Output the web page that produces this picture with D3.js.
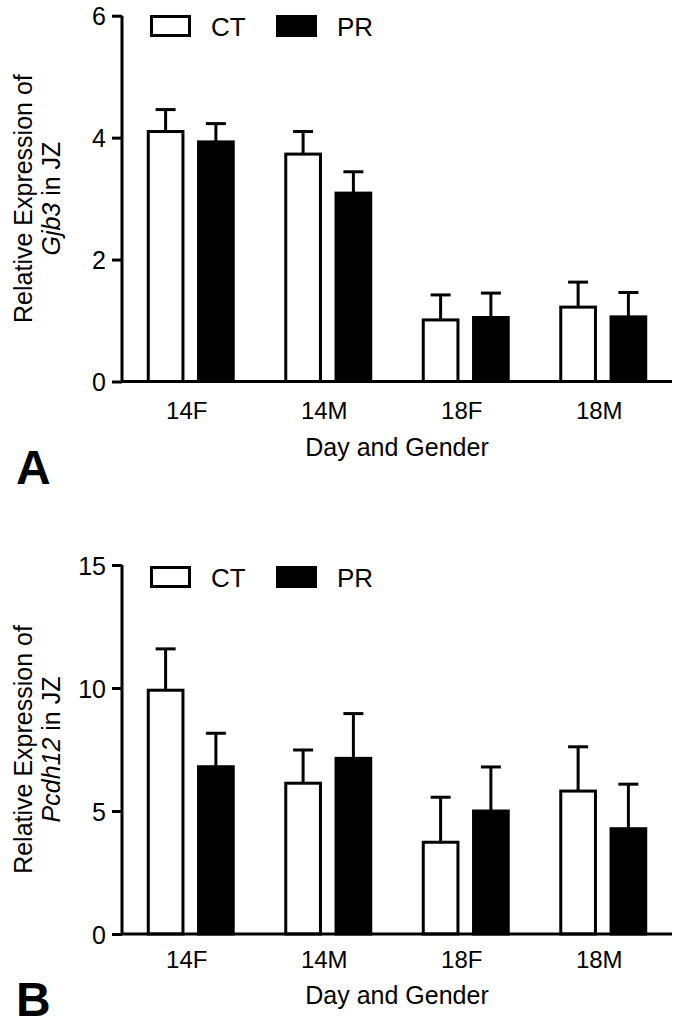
<!DOCTYPE html>
<html><head><meta charset="utf-8">
<script src="https://cdn.jsdelivr.net/npm/d3@7"></script>
<style>
html,body{margin:0;padding:0;background:#fff;}
text{font-family:"Liberation Sans",Arial,sans-serif;fill:#000;}
</style></head>
<body>
<svg id="chart" width="687" height="1027"></svg>
<script>
const categories = ["14F", "14M", "18F", "18M"];
const seriesNames = ["CT", "PR"];

const gjb3CT = [4.10, 3.73, 1.01, 1.22];
const gjb3CTErr = [0.36, 0.37, 0.41, 0.41];
const gjb3PR = [3.93, 3.09, 1.05, 1.06];
const gjb3PRErr = [0.30, 0.35, 0.40, 0.40];
const gjb3Ticks = [0, 2, 4, 6];

const pcdh12CT = [9.91, 6.13, 3.73, 5.81];
const pcdh12CTErr = [1.68, 1.35, 1.83, 1.80];
const pcdh12PR = [6.80, 7.14, 5.00, 4.28];
const pcdh12PRErr = [1.36, 1.82, 1.79, 1.81];
const pcdh12Ticks = [0, 5, 10, 15];

const svg = d3.select("#chart");
const left = 122, right = 672;
const colors = {CT: "#fff", PR: "#000"};

function panel(cfg) {
  const g = svg.append("g");
  const x = d3.scaleBand().domain(categories).range([left, right]).paddingInner(0.382).paddingOuter(0.191);
  const xs = d3.scaleBand().domain(seriesNames).range([0, x.bandwidth()]).paddingInner(0.31);
  const y = d3.scaleLinear().domain([0, cfg.max]).range([cfg.bottom, cfg.top]);

  const rows = [];
  categories.forEach((c, i) => {
    rows.push({cat: c, s: "CT", v: cfg.ct[i], e: cfg.ctErr[i]});
    rows.push({cat: c, s: "PR", v: cfg.pr[i], e: cfg.prErr[i]});
  });

  // error bars
  const eb = g.append("g").selectAll("g").data(rows).join("g");
  eb.append("line")
    .attr("x1", d => x(d.cat) + xs(d.s) + xs.bandwidth() / 2)
    .attr("x2", d => x(d.cat) + xs(d.s) + xs.bandwidth() / 2)
    .attr("y1", d => y(d.v)).attr("y2", d => y(d.v + d.e))
    .attr("stroke", "#000").attr("stroke-width", 3);
  eb.append("line")
    .attr("x1", d => x(d.cat) + xs(d.s) + xs.bandwidth() / 2 - 10)
    .attr("x2", d => x(d.cat) + xs(d.s) + xs.bandwidth() / 2 + 10)
    .attr("y1", d => y(d.v + d.e)).attr("y2", d => y(d.v + d.e))
    .attr("stroke", "#000").attr("stroke-width", 3);

  // bars
  g.append("g").selectAll("rect").data(rows).join("rect")
    .attr("x", d => x(d.cat) + xs(d.s))
    .attr("width", xs.bandwidth())
    .attr("y", d => y(d.v))
    .attr("height", d => y(0) - y(d.v))
    .attr("fill", d => colors[d.s])
    .attr("stroke", "#000").attr("stroke-width", 3);

  // y axis
  const ya = g.append("g").attr("transform", `translate(${left},0)`)
    .call(d3.axisLeft(y).tickValues(cfg.ticks).tickSize(10).tickPadding(6).tickFormat(d3.format("d")));
  ya.select(".domain").attr("stroke-width", 3).attr("d", `M0,${cfg.top}V${cfg.bottom}`);
  ya.selectAll(".tick line").attr("stroke-width", 3);
  ya.selectAll(".tick text").attr("font-size", 25).attr("dy", "0.36em")
    .style("font-family", "'Liberation Sans',Arial,sans-serif");

  // x axis
  const xa = g.append("g").attr("transform", `translate(0,${cfg.bottom})`)
    .call(d3.axisBottom(x).tickSize(0).tickPadding(0));
  xa.select(".domain").attr("stroke-width", 3).attr("d", `M${left},0H${right}`);
  xa.selectAll(".tick text").attr("font-size", 24).attr("y", cfg.tickBase).attr("dy", 0).attr("dx", -4)
    .style("font-family", "'Liberation Sans',Arial,sans-serif");

  // x title
  g.append("text").attr("x", (left + right) / 2).attr("y", cfg.bottom + cfg.titleBase)
    .attr("text-anchor", "middle").attr("font-size", 25).text("Day and Gender");

  // y title
  const cy = (cfg.top + cfg.bottom) / 2;
  const yt = g.append("text").attr("transform", `translate(32,${cy}) rotate(-90)`)
    .attr("text-anchor", "middle").attr("font-size", 25);
  yt.append("tspan").attr("x", 0).attr("y", 0).text("Relative Expression of");
  const l2 = yt.append("tspan").attr("x", 0).attr("y", 28);
  l2.append("tspan").attr("font-style", "italic").text(cfg.gene);
  l2.append("tspan").text(" in JZ");

  // legend
  const lg = g.append("g");
  const lx = [150, 276];
  seriesNames.forEach((s, i) => {
    lg.append("rect").attr("x", lx[i] + 1.5).attr("y", cfg.legY + 1.5).attr("width", 38).attr("height", 19)
      .attr("fill", colors[s]).attr("stroke", "#000").attr("stroke-width", 3);
    lg.append("text").attr("x", lx[i] + 61).attr("y", cfg.legY + 21).attr("font-size", 26).text(s);
  });

  // panel letter
  g.append("text").attr("x", 16).attr("y", cfg.letterY).attr("font-size", 48).attr("font-weight", "bold").text(cfg.letter);
}

panel({ct: gjb3CT, ctErr: gjb3CTErr, pr: gjb3PR, prErr: gjb3PRErr, ticks: gjb3Ticks, max: 6,
  top: 15.7, bottom: 381.5, tickBase: 37, titleBase: 74, gene: "Gjb3", legY: 15, letter: "A", letterY: 484});
panel({ct: pcdh12CT, ctErr: pcdh12CTErr, pr: pcdh12PR, prErr: pcdh12PRErr, ticks: pcdh12Ticks, max: 15,
  top: 565, bottom: 934, tickBase: 34, titleBase: 70, gene: "Pcdh12", legY: 566, letter: "B", letterY: 1016});
</script>
</body></html>
